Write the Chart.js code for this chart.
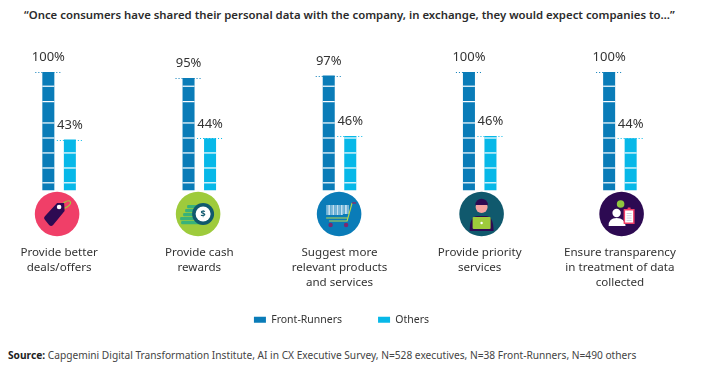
<!DOCTYPE html>
<html>
<head>
<meta charset="utf-8">
<script src="https://cdn.jsdelivr.net/npm/chart.js@4"></script>
<style>
  html,body{margin:0;padding:0;background:#fff;width:701px;height:372px;overflow:hidden;font-family:"Noto Sans",sans-serif;color:#333}
  #title{position:absolute;left:24px;top:7px;font-size:11.36px;font-weight:600;white-space:nowrap;line-height:16px;color:#2b2b2b}
  #source{position:absolute;left:8px;top:348px;font-size:10.18px;white-space:nowrap;line-height:14px;color:#444}
  #source b{color:#222}
  canvas{position:absolute;left:-11px;top:0}
</style>
</head>
<body>
<div id="title">“Once consumers have shared their personal data with the company, in exchange, they would expect companies to…”</div>
<canvas id="c" width="701" height="347"></canvas>
<div id="source"><b>Source:</b> Capgemini Digital Transformation Institute, AI in CX Executive Survey, N=528 executives, N=38 Front-Runners, N=490 others</div>
<script>
const categories = [
  ["Provide better","deals/offers"],
  ["Provide cash","rewards"],
  ["Suggest more","relevant products","and services"],
  ["Provide priority","services"],
  ["Ensure transparency","in treatment of data","collected"]
];
const frontRunners = [100, 95, 97, 100, 100];
const others = [43, 44, 46, 46, 44];
const seriesNames = ["Front-Runners", "Others"];
const segmentBreaks = [6.5, 19, 31.7, 44.3, 57, 75, 88];
const frontColor = "#0a7cb8";
const othersColor = "#07b8e8";
const iconShift = [-2, -1.2, -0.4, 1.9, 1.7];

function disc(ctx, x, y, r, col){ctx.fillStyle=col;ctx.beginPath();ctx.arc(x,y,r,0,Math.PI*2);ctx.fill();}
function rr(ctx,x,y,w,h,r,col){ctx.fillStyle=col;ctx.beginPath();ctx.roundRect(x,y,w,h,r);ctx.fill();}
const iconDrawers = [
  function(ctx){ // price tag
    disc(ctx,0,0,22.3,"#f03f68");
    ctx.strokeStyle="#9ecb3c";ctx.lineWidth=1.2;ctx.beginPath();ctx.ellipse(9,-9.5,5,2.6,-0.6,0,Math.PI*2);ctx.stroke();
    ctx.fillStyle="#2d0a52";ctx.beginPath();
    ctx.moveTo(-12,2);ctx.lineTo(0,-11);ctx.lineTo(7,-11);ctx.lineTo(7.5,-3);ctx.lineTo(-4,11);ctx.quadraticCurveTo(-6,13,-8,11);ctx.lineTo(-12,6);ctx.quadraticCurveTo(-14,4,-12,2);ctx.fill();
    disc(ctx,2,-7,2.3,"#fff");
  },
  function(ctx){ // cash
    disc(ctx,0,0,22.3,"#9ecb3c");
    const c="#38b27a";
    rr(ctx,-17,7,21,3.2,1,c);rr(ctx,-18,3,20,3.2,1,c);rr(ctx,-15,-1,16,3.2,1,c);rr(ctx,-13,-5,15,3.2,1,c);rr(ctx,-11,-9,15,3.2,1,c);
    disc(ctx,5,0,11,"#10596d");disc(ctx,5,0,7.5,"#fff");
    ctx.fillStyle="#10596d";ctx.font="bold 9px 'Noto Sans'";ctx.textAlign="center";ctx.textBaseline="middle";ctx.fillText("$",5,0.5);
  },
  function(ctx){ // cart
    disc(ctx,0,0,22.3,"#0a7cb8");
    ctx.fillStyle="#cfe6f2";
    for(let i=0;i<11;i++){ctx.globalAlpha=i%2?0.95:0.55;ctx.fillRect(-13+i*2.1,-9,1.9,10-(i>7?1:0));}
    ctx.globalAlpha=1;
    ctx.strokeStyle="#b9d84a";ctx.lineWidth=1.1;ctx.beginPath();
    ctx.moveTo(13,-11);ctx.lineTo(8,7);ctx.lineTo(-10,7);ctx.moveTo(-13,4);ctx.lineTo(9,4);ctx.stroke();
    ctx.strokeStyle="#8a2a6a";ctx.lineWidth=1.4;ctx.beginPath();ctx.moveTo(13,-11);ctx.lineTo(17,-11);ctx.stroke();
    disc(ctx,-8.5,11,2.2,"#7a2a70");disc(ctx,7,11,2.2,"#7a2a70");
  },
  function(ctx){ // person with laptop
    disc(ctx,0,0,22.3,"#10596d");
    ctx.fillStyle="#2d0a52";ctx.beginPath();ctx.moveTo(-12,17);ctx.quadraticCurveTo(-12,2,-4,2);ctx.lineTo(4,2);ctx.quadraticCurveTo(12,2,12,17);ctx.fill();
    disc(ctx,0,-7,6,"#f4a3a0");
    ctx.fillStyle="#2d0a52";ctx.beginPath();ctx.arc(0,-9,6.3,Math.PI,0);ctx.fill();
    rr(ctx,-9,3,18,12,1,"#9ecb3c");
    disc(ctx,0,9,1.2,"#fff");
  },
  function(ctx){ // person with clipboard
    disc(ctx,0,0,22.3,"#2d0a52");
    disc(ctx,-1,-10,3.8,"#8fc63f");
    disc(ctx,-5,-1,4.2,"#fff");
    ctx.fillStyle="#fff";ctx.beginPath();ctx.moveTo(-13,12);ctx.quadraticCurveTo(-13,4,-5,4);ctx.quadraticCurveTo(3,4,4,12);ctx.closePath();ctx.fill();
    rr(ctx,2,-5,11,15,0.5,"#f03f68");rr(ctx,3.5,-3.5,8,12,0,"#fff");
    rr(ctx,6,-6.5,3,2,0.5,"#f03f68");
    ctx.fillStyle="#c9c9dc";for(let i=0;i<4;i++)ctx.fillRect(5,-1+i*2.3,5,0.9);
  }
];

const barDecor = {
  id:"barDecor",
  afterLayout(chart){
    const lg=chart.legend;
    lg.top-=12;lg.bottom-=12;lg.left+=2;lg.right+=2;
  },
  afterDatasetsDraw(chart){
    const ctx=chart.ctx, y=chart.scales.y;
    ctx.save();
    chart.data.datasets.forEach((ds,di)=>{
      chart.getDatasetMeta(di).data.forEach((bar,i)=>{
        const left=bar.x-bar.width/2;
        ctx.fillStyle="#fff";
        segmentBreaks.forEach(v=>{
          if(v<ds.data[i]){ctx.fillRect(left,y.getPixelForValue(v)-0.6,bar.width,1.2);}
        });
        ctx.strokeStyle=ds.backgroundColor;ctx.lineWidth=1;ctx.setLineDash([1,2]);
        const ty=Math.round(bar.y)+0.5;
        ctx.beginPath();ctx.moveTo(left-7,ty);ctx.lineTo(left+bar.width+7,ty);ctx.stroke();
        ctx.setLineDash([]);
        ctx.fillStyle="#333";ctx.font="13px 'Noto Sans'";ctx.textAlign="center";ctx.textBaseline="middle";
        ctx.fillText(ds.data[i]+"%",bar.x,bar.y-14.5);
      });
    });
    const xs=chart.scales.x;
    iconDrawers.forEach((draw,i)=>{
      ctx.save();
      ctx.translate(xs.getPixelForTick(i)+iconShift[i],chart.chartArea.bottom+23.5);
      draw(ctx);
      ctx.restore();
    });
    ctx.restore();
  }
};

new Chart(document.getElementById("c"),{
  type:"bar",
  data:{
    labels:categories,
    datasets:[
      {label:seriesNames[0],data:frontRunners,backgroundColor:frontColor,categoryPercentage:0.307,barPercentage:0.558},
      {label:seriesNames[1],data:others,backgroundColor:othersColor,categoryPercentage:0.307,barPercentage:0.558}
    ]
  },
  options:{
    responsive:false,
    animation:false,
    layout:{padding:{top:72},autoPadding:false},
    scales:{
      y:{display:false,min:0,max:100},
      x:{
        grid:{display:false,drawTicks:false},
        border:{display:false},
        ticks:{autoSkip:false,maxRotation:0,minRotation:0,padding:55,color:"#333",font:{family:"'Noto Sans'",size:11.6,lineHeight:1.27}},
        afterFit(s){s.height=100;s.paddingLeft=0;s.paddingRight=0;}
      }
    },
    plugins:{
      tooltip:{enabled:false},
      legend:{
        position:"bottom",
        labels:{boxWidth:12,boxHeight:6,padding:36,color:"#333",font:{family:"'Noto Sans'",size:10.5}}
      }
    }
  },
  plugins:[barDecor]
});
</script>
</body>
</html>
